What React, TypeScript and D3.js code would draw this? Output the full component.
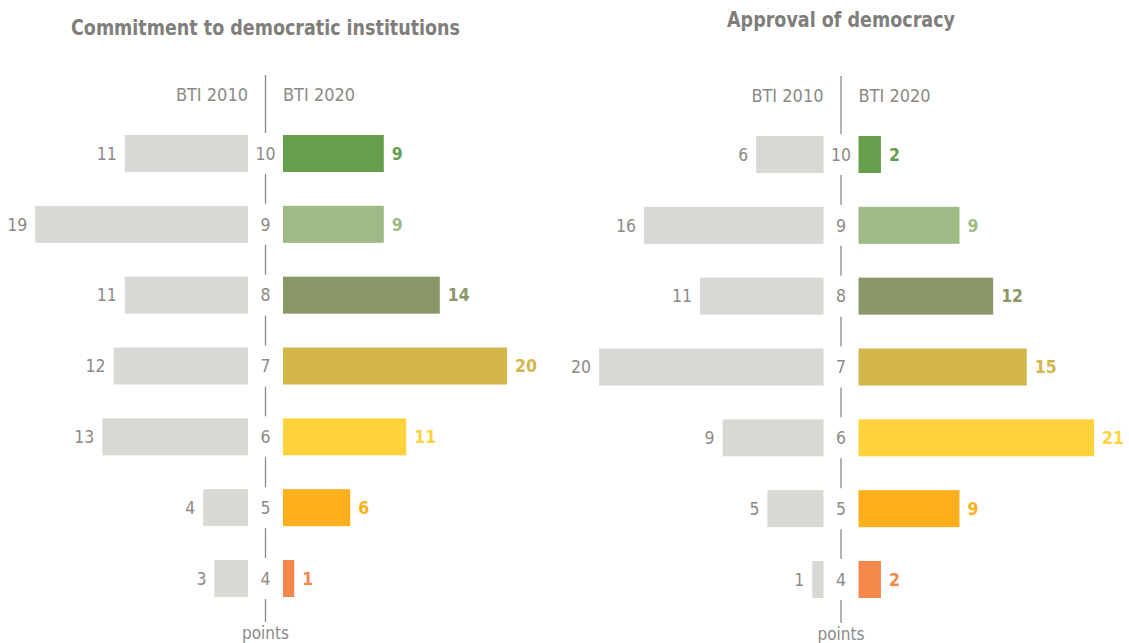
import React from "react";
import * as d3 from "d3";

// score categories (points), top to bottom
const categories = ["10", "9", "8", "7", "6", "5", "4"];

// Commitment to democratic institutions: number of countries
const commitment2010 = [11, 19, 11, 12, 13, 4, 3];
const commitment2020 = [9, 9, 14, 20, 11, 6, 1];

// Approval of democracy: number of countries
const approval2010 = [6, 16, 11, 20, 9, 5, 1];
const approval2020 = [2, 9, 12, 15, 21, 9, 2];

const seriesLabels = ["BTI 2010", "BTI 2020"];

const categoryColors = ["#679e4e", "#9fba85", "#8a9766", "#d2b64a", "#ffd23c", "#fdb01b", "#f5874a"];
const greyBar = "#d8d8d4";
const textGrey = "#8c8a87";
const font = "'Liberation Sans Narrow', 'DejaVu Sans Condensed', sans-serif";

const W = 1129;
const H = 643;
const barH = 37;

type PanelProps = {
  title: string;
  titleY: number;
  titleWidth: number;
  cx: number;
  offsetY: number;
  left: number[];
  right: number[];
  unit: number;
};

const Panel = ({ title, titleY, titleWidth, cx, offsetY, left, right, unit }: PanelProps) => {
  const y = d3.scalePoint<string>().domain(categories).range([153.5 + offsetY, 578.5 + offsetY]);
  const gap = 17.5;
  const xl = d3.scaleLinear().domain([0, 20]).range([cx - gap, cx - gap - 20 * unit]);
  const xr = d3.scaleLinear().domain([0, 20]).range([cx + gap, cx + gap + 20 * unit]);

  // centre line broken at each row
  const tops = categories.map((c) => (y(c) as number) - barH / 2);
  const segs: [number, number][] = [];
  let start = 75 + offsetY;
  tops.forEach((t) => {
    segs.push([start, t - 2]);
    start = t + barH + 2;
  });
  segs.push([start, 622 + offsetY]);

  return (
    <g>
      <text
        x={cx}
        y={titleY}
        textAnchor="middle"
        fontSize={22}
        fontWeight="bold"
        fill="#7f7e7b"
        textLength={titleWidth}
        lengthAdjust="spacingAndGlyphs"
      >
        {title}
      </text>
      {segs.map(([a, b], i) => (
        <line key={i} x1={cx} x2={cx} y1={a} y2={b} stroke="#8a8a86" strokeWidth={1.3} />
      ))}
      <text x={cx - gap} y={101 + offsetY} textAnchor="end" fontSize={18} fill={textGrey}>
        {seriesLabels[0]}
      </text>
      <text x={cx + gap} y={101 + offsetY} textAnchor="start" fontSize={18} fill={textGrey}>
        {seriesLabels[1]}
      </text>
      {categories.map((c, i) => {
        const cy = y(c) as number;
        return (
          <g key={c}>
            <rect x={xl(left[i])} y={cy - barH / 2} width={xl(0) - xl(left[i])} height={barH} fill={greyBar} />
            <rect x={xr(0)} y={cy - barH / 2} width={xr(right[i]) - xr(0)} height={barH} fill={categoryColors[i]} />
            <text x={cx} y={cy} dy="0.36em" textAnchor="middle" fontSize={17.5} fill={textGrey}>
              {c}
            </text>
            <text x={xl(left[i]) - 8} y={cy} dy="0.36em" textAnchor="end" fontSize={17.5} fill={textGrey}>
              {left[i]}
            </text>
            <text x={xr(right[i]) + 8} y={cy} dy="0.36em" textAnchor="start" fontSize={17.5} fontWeight="bold" fill={categoryColors[i]}>
              {right[i]}
            </text>
          </g>
        );
      })}
      <text x={cx} y={639 + offsetY} textAnchor="middle" fontSize={17} fill={textGrey}>
        points
      </text>
    </g>
  );
};

export default function App() {
  return (
    <svg width={W} height={H} style={{ position: "absolute", left: 0, top: 0, background: "#fff" }} fontFamily={font}>
      <Panel
        title="Commitment to democratic institutions"
        titleY={35}
        titleWidth={389}
        cx={265.5}
        offsetY={0}
        left={commitment2010}
        right={commitment2020}
        unit={11.2}
      />
      <Panel
        title="Approval of democracy"
        titleY={27}
        titleWidth={228}
        cx={841}
        offsetY={1}
        left={approval2010}
        right={approval2020}
        unit={11.22}
      />
    </svg>
  );
}
